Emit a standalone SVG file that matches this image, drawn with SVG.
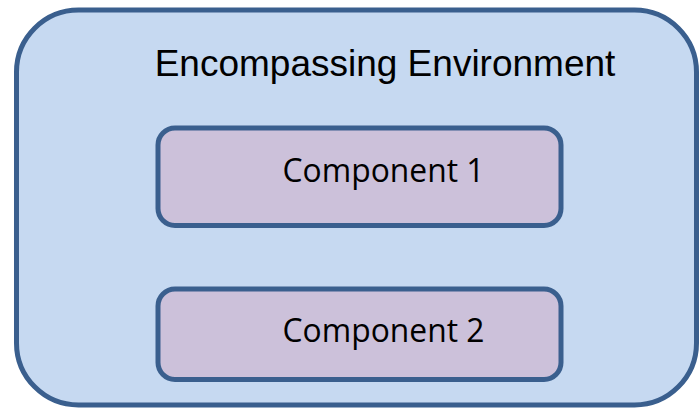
<svg xmlns="http://www.w3.org/2000/svg" width="699" height="408" viewBox="0 0 699 408">
<style>
.box{stroke:#3A5F8E;stroke-width:5}
.env{fill:#C6D9F1}
.comp{fill:#CCC1DA}
.t1{font-family:"Liberation Sans",Arial,sans-serif;font-size:37px;fill:#000}
.t2{font-family:"Open Sans","Noto Sans",sans-serif;font-size:32px;fill:#000}
</style>
<g id="environment">
<rect class="box env" x="16.5" y="10" width="680" height="395" rx="62" ry="62"/>
<text class="t1" x="385" y="76" text-anchor="middle">Encompassing Environment</text>
</g>
<g id="component1">
<rect class="box comp" x="158" y="128" width="403" height="97.5" rx="17" ry="17"/>
<text class="t2" x="383.5" y="182" text-anchor="middle" textLength="202" lengthAdjust="spacingAndGlyphs">Component 1</text>
</g>
<g id="component2">
<rect class="box comp" x="158" y="289" width="403" height="90.5" rx="17" ry="17"/>
<text class="t2" x="383.5" y="342" text-anchor="middle" textLength="202" lengthAdjust="spacingAndGlyphs">Component 2</text>
</g>
<g id="connectors"/>
</svg>
